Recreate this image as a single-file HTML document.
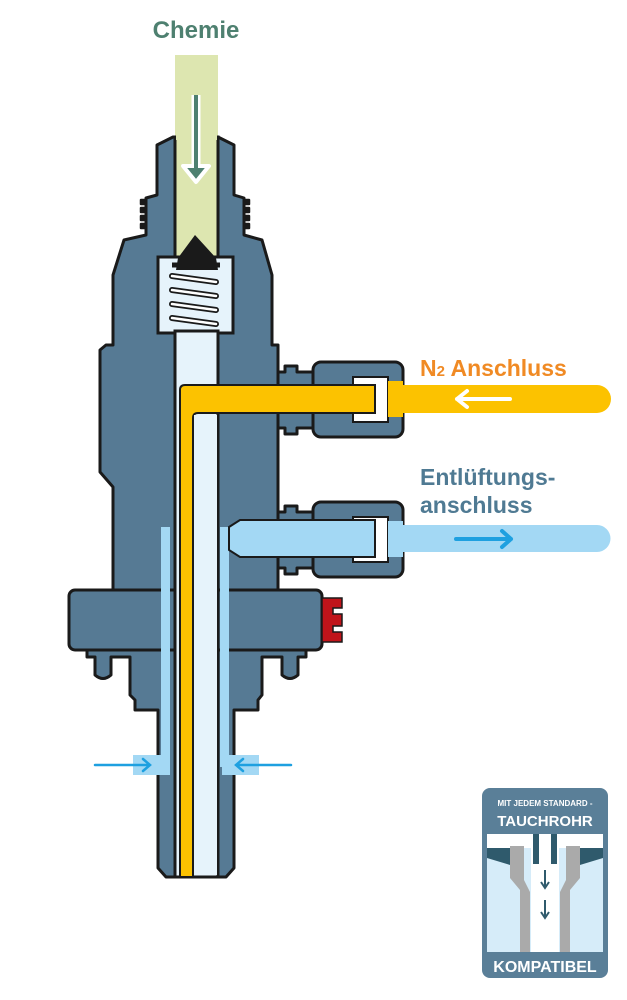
<!DOCTYPE html>
<html><head><meta charset="utf-8"><style>
html,body{margin:0;padding:0;background:#fff;width:627px;height:1000px;overflow:hidden}
svg{display:block}
text{font-family:"Liberation Sans",sans-serif;font-weight:bold}
</style></head><body>
<svg width="627" height="1000" viewBox="0 0 627 1000">
<rect width="627" height="1000" fill="#fff"/>
<text x="196" y="38" text-anchor="middle" font-size="24" fill="#4e8070">Chemie</text>
<rect x="175" y="55" width="43" height="90" fill="#dde6b0"/>
<g stroke="#1a1a1a" stroke-width="3" stroke-linejoin="round" fill="#567a94">
<path d="M173,137 L218,137 L234,145 L234,195 L244,198 L244,235 L262,240 L272,275 L272,345 L278,345 L278,590 L113,590 L113,487 L100,472 L100,350 L106,345 L113,345 L113,275 L124,240 L146,235 L146,198 L157,195 L157,145 Z"/>
<path d="M146,200 h-5 v4 h5 M146,208 h-5 v4 h5 M146,216 h-5 v4 h5 M146,224 h-5 v4 h5" fill="#1a1a1a" stroke-width="2.5"/>
<path d="M244,200 h5 v4 h-5 M244,208 h5 v4 h-5 M244,216 h5 v4 h-5 M244,224 h5 v4 h-5" fill="#1a1a1a" stroke-width="2.5"/>
<rect x="69" y="590" width="253" height="60" rx="6"/>
<path d="M87,650 L87,657 L95,657 L95,675 Q103,682 111,675 L111,657 L130,657 L130,695 L135,700 L135,710 L158,710 L158,868 L166,877 L226,877 L234,868 L234,710 L258,710 L258,700 L262,695 L262,657 L282,657 L282,675 Q290,682 298,675 L298,657 L306,657 L306,650 Z"/>
</g>
<path d="M322,598 L342,598 L342,608 L333,608 L333,614 L342,614 L342,626 L333,626 L333,632 L342,632 L342,642 L322,642 Z" fill="#c0141a" stroke="#1a1a1a" stroke-width="1.5"/>
<rect x="175" y="137" width="43" height="120" fill="#dde6b0" stroke="#1a1a1a" stroke-width="3"/>
<rect x="176" y="130" width="41" height="10" fill="#dde6b0"/>
<rect x="158" y="257" width="75" height="76" fill="#e6f3fb" stroke="#1a1a1a" stroke-width="3"/>
<path d="M195,235 L216,258 L218,270 L176,270 L178,258 Z" fill="#1a1a1a"/>
<path d="M172,265 L220,265" stroke="#1a1a1a" stroke-width="5"/>
<g fill="none" stroke="#1a1a1a" stroke-width="6" stroke-linecap="round">
<path d="M172,276 L216,282 M172,290 L216,296 M172,304 L216,310 M172,318 L216,324"/>
</g>
<g fill="none" stroke="#fff" stroke-width="2.5" stroke-linecap="round">
<path d="M172,276 L216,282 M172,290 L216,296 M172,304 L216,310 M172,318 L216,324"/>
</g>
<rect x="175" y="331" width="43" height="546" fill="#e6f3fb" stroke="#1a1a1a" stroke-width="3"/>
<rect x="161" y="527" width="9" height="240" fill="#a3d8f4"/>
<rect x="220" y="527" width="9" height="240" fill="#a3d8f4"/>
<rect x="133" y="755" width="37" height="20" fill="#a3d8f4"/>
<rect x="222" y="755" width="37" height="20" fill="#a3d8f4"/>
<g stroke="#1a1a1a" stroke-width="3" fill="#567a94" stroke-linejoin="round">
<path d="M278,372 L285,372 L285,366 L297,366 L297,372 L313,372 L313,428 L297,428 L297,434 L285,434 L285,428 L278,428 Z"/>
<rect x="313" y="362" width="90" height="75" rx="8"/>
<path d="M278,512 L285,512 L285,506 L297,506 L297,512 L313,512 L313,568 L297,568 L297,574 L285,574 L285,568 L278,568 Z"/>
<rect x="313" y="502" width="90" height="75" rx="8"/>
</g>
<rect x="353" y="377" width="35" height="45" fill="#fff" stroke="#1a1a1a" stroke-width="2"/>
<rect x="353" y="517" width="35" height="45" fill="#fff" stroke="#1a1a1a" stroke-width="2"/>
<path d="M388,385 L597,385 A14,14 0 0 1 597,413 L388,413 Z" fill="#fcc200"/>
<rect x="388" y="381" width="15" height="36" fill="#fcc200"/>
<path d="M180,877 L180,390 Q180,385 185,385 L375,385 L375,413 L198,413 Q193,413 193,418 L193,877 Z" fill="#fcc200" stroke="#1a1a1a" stroke-width="2"/>
<rect x="194" y="415" width="23" height="460" fill="#e6f3fb"/>
<path d="M388,525 L597,525 A13.5,13.5 0 0 1 597,552 L388,552 Z" fill="#a3d8f4"/>
<rect x="388" y="521" width="15" height="36" fill="#a3d8f4"/>
<path d="M229,527 L240,520 L375,520 L375,557 L240,557 L229,550 Z" fill="#a3d8f4" stroke="#1a1a1a" stroke-width="2"/>
<path d="M196,95 L196,170" stroke="#fff" stroke-width="9"/>
<path d="M183,166 L196,182 L209,166 Z" fill="#4e8070" stroke="#fff" stroke-width="4" stroke-linejoin="round"/>
<path d="M196,95 L196,168" stroke="#4e8070" stroke-width="4"/>
<path d="M510,399 L457,399 M467,391 L457,399 L467,407" fill="none" stroke="#fff" stroke-width="4" stroke-linecap="round" stroke-linejoin="round"/>
<path d="M456,539 L511,539 M502,531 L511,539 L502,547" fill="none" stroke="#1ea0e0" stroke-width="4" stroke-linecap="round" stroke-linejoin="round"/>
<path d="M95,765 L150,765 M143,759 L150,765 L143,771" fill="none" stroke="#1ea0e0" stroke-width="2.5" stroke-linecap="round"/>
<path d="M291,765 L236,765 M243,759 L236,765 L243,771" fill="none" stroke="#1ea0e0" stroke-width="2.5" stroke-linecap="round"/>
<text x="420" y="376" font-size="23" fill="#f08a24">N<tspan font-size="15">2</tspan> Anschluss</text>
<text x="420" y="485" font-size="23" fill="#4f7a93">Entlüftungs-</text>
<text x="420" y="513" font-size="23" fill="#4f7a93">anschluss</text>
<rect x="482" y="788" width="126" height="190" rx="8" fill="#5a7f98"/>
<text x="545" y="806" text-anchor="middle" font-size="8" fill="#fff">MIT JEDEM STANDARD -</text>
<text x="545" y="826" text-anchor="middle" font-size="15" fill="#fff">TAUCHROHR</text>
<rect x="487" y="834" width="116" height="118" fill="#d6ecf9"/>
<rect x="487" y="834" width="116" height="14" fill="#fff"/>
<path d="M487,848 L520,848 L520,868 L487,858 Z M603,848 L570,848 L570,868 L603,858 Z" fill="#2f5a6c"/>
<path d="M510,846 L524,846 L524,880 L530,892 L530,952 L560,952 L560,892 L566,880 L566,846 L580,846 L580,878 L570,890 L570,952 L520,952 L520,890 L510,878 Z" fill="#aaa"/>
<rect x="531" y="834" width="28" height="118" fill="#fff"/>
<rect x="533" y="834" width="6" height="30" fill="#2f5a6c"/><rect x="551" y="834" width="6" height="30" fill="#2f5a6c"/>
<path d="M545,870 L545,886 M541,882 L545,888 L549,882 M545,900 L545,916 M541,912 L545,918 L549,912" stroke="#2f5a6c" stroke-width="2" fill="none"/>
<text x="545" y="972" text-anchor="middle" font-size="16" fill="#fff">KOMPATIBEL</text>
</svg>
</body></html>
